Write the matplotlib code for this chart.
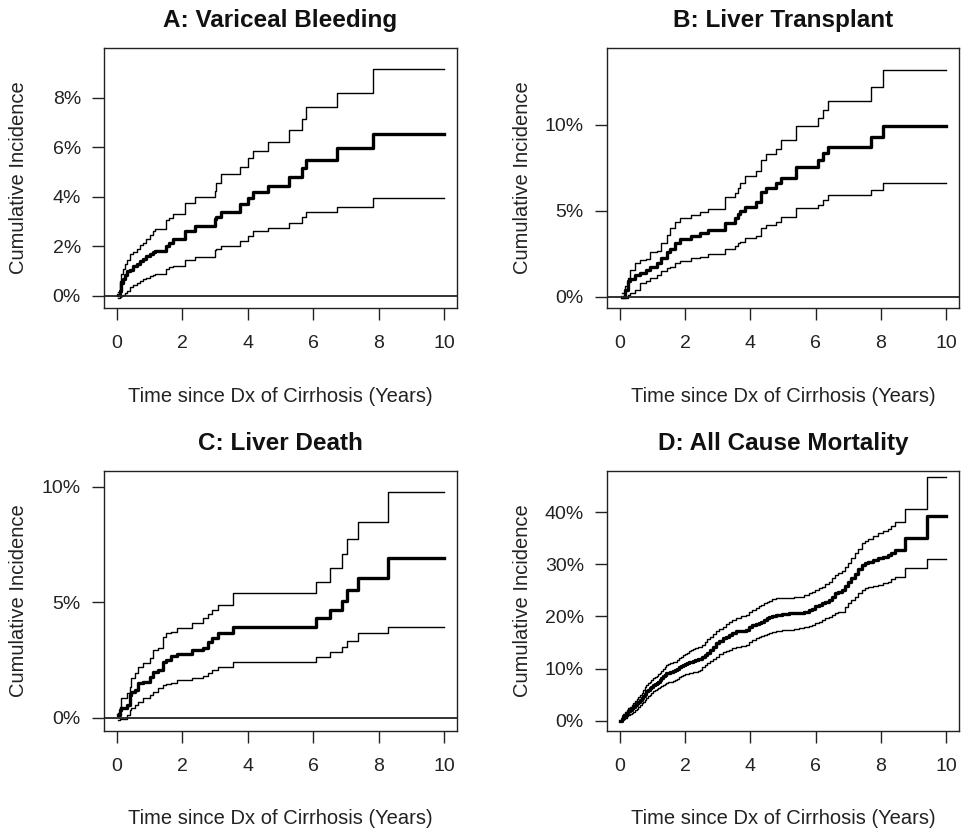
import matplotlib
matplotlib.use("Agg")
import matplotlib.pyplot as plt
from matplotlib.ticker import FuncFormatter

plt.rcParams['font.family'] = ['Liberation Sans', 'DejaVu Sans']

END_YEAR = 10
x_ticks = [0, 2, 4, 6, 8, 10]

# A: Variceal Bleeding (cumulative incidence, percent)
a_time = [0.03, 0.08, 0.13, 0.18, 0.24, 0.29, 0.39, 0.49, 0.60, 0.69, 0.80, 0.90,
          1.00, 1.10, 1.15, 1.51, 1.60, 1.71, 2.07, 2.38, 2.99, 3.04, 3.18, 3.76,
          4.01, 4.16, 4.62, 5.26, 5.66, 5.77, 6.73, 7.83]
a_est = [0.05, 0.2, 0.5, 0.7, 0.85, 1.0, 1.05, 1.2, 1.3, 1.4, 1.5, 1.6,
         1.7, 1.75, 1.8, 2.0, 2.15, 2.3, 2.6, 2.8, 3.1, 3.2, 3.4, 3.7,
         3.95, 4.2, 4.45, 4.8, 5.15, 5.5, 5.95, 6.55]
a_lo = [-0.1, -0.05, -0.02, 0.02, 0.1, 0.2, 0.35, 0.45, 0.52, 0.6, 0.68, 0.72,
        0.8, 0.86, 0.9, 1.1, 1.15, 1.2, 1.45, 1.55, 1.85, 1.9, 2.0, 2.2,
        2.4, 2.6, 2.75, 2.95, 3.2, 3.4, 3.6, 3.95]
a_hi = [0.15, 0.6, 0.9, 1.1, 1.3, 1.45, 1.7, 1.75, 1.9, 2.05, 2.15, 2.3,
        2.45, 2.6, 2.7, 3.05, 3.15, 3.3, 3.75, 4.0, 4.25, 4.55, 4.9, 5.2,
        5.55, 5.85, 6.2, 6.7, 7.15, 7.6, 8.2, 9.15]

# B: Liver Transplant
b_time = [0.05, 0.15, 0.25, 0.31, 0.46, 0.61, 0.80, 0.92, 1.12, 1.27, 1.43, 1.53,
          1.68, 1.84, 2.19, 2.45, 2.70, 3.21, 3.52, 3.62, 3.67, 3.83, 4.18, 4.34,
          4.49, 4.80, 4.95, 5.41, 6.07, 6.22, 6.38, 7.70, 8.06]
b_est = [0.0, 0.4, 0.9, 1.0, 1.26, 1.36, 1.55, 1.74, 1.94, 2.23, 2.6, 2.8,
         3.1, 3.35, 3.5, 3.7, 3.88, 4.3, 4.55, 4.8, 5.0, 5.23, 5.52, 6.1,
         6.3, 6.6, 6.88, 7.56, 7.95, 8.33, 8.68, 9.3, 9.92]
b_lo = [-0.1, -0.05, 0.1, 0.2, 0.4, 0.78, 0.9, 1.07, 1.26, 1.5, 1.65, 1.75,
        1.94, 2.08, 2.23, 2.33, 2.48, 2.8, 2.95, 3.1, 3.2, 3.4, 3.53, 3.97,
        4.17, 4.36, 4.65, 5.14, 5.33, 5.62, 5.9, 6.2, 6.63]
b_hi = [0.2, 0.6, 1.1, 1.55, 1.94, 2.13, 2.2, 2.6, 2.65, 3.1, 3.6, 4.0,
        4.36, 4.6, 4.75, 4.94, 5.08, 5.8, 6.0, 6.3, 6.6, 7.0, 7.3, 7.95,
        8.3, 8.6, 9.1, 9.9, 10.4, 10.85, 11.4, 12.2, 13.2]

# C: Liver Death
c_time = [0.03, 0.08, 0.13, 0.29, 0.39, 0.44, 0.54, 0.64, 0.80, 1.00, 1.10, 1.26,
          1.41, 1.51, 1.66, 1.82, 2.28, 2.63, 2.79, 2.89, 3.09, 3.55, 6.08, 6.51,
          6.87, 7.02, 7.38, 8.30]
c_est = [0.1, 0.33, 0.4, 0.55, 0.98, 1.1, 1.2, 1.49, 1.56, 1.77, 1.99, 2.06,
         2.42, 2.5, 2.65, 2.75, 2.93, 3.0, 3.29, 3.43, 3.65, 3.94, 4.3, 4.66,
         5.06, 5.53, 6.03, 6.9]
c_lo = [-0.1, -0.08, -0.05, 0.1, 0.33, 0.4, 0.55, 0.69, 0.84, 0.98, 1.13, 1.27,
        1.41, 1.45, 1.5, 1.63, 1.7, 1.8, 1.92, 2.06, 2.21, 2.42, 2.64, 2.86,
        3.07, 3.33, 3.65, 3.94]
c_hi = [0.2, 0.48, 0.84, 1.05, 1.34, 1.7, 1.92, 2.2, 2.35, 2.57, 2.93, 3.0,
        3.5, 3.65, 3.72, 3.87, 4.08, 4.3, 4.5, 4.66, 4.88, 5.38, 5.89, 6.46,
        7.08, 7.72, 8.48, 9.78]

# D: All Cause Mortality
d_time = [0.0, 0.05, 0.1, 0.15, 0.2, 0.25, 0.3, 0.36, 0.41, 0.46, 0.51, 0.56,
          0.61, 0.66, 0.71, 0.76, 0.81, 0.86, 0.91, 0.96, 1.02, 1.07, 1.12, 1.17,
          1.22, 1.27, 1.32, 1.37, 1.42, 1.48, 1.54, 1.61, 1.68, 1.74, 1.80, 1.87,
          1.93, 1.99, 2.05, 2.12, 2.18, 2.25, 2.31, 2.38, 2.44, 2.52, 2.60, 2.68,
          2.75, 2.85, 2.95, 3.05, 3.15, 3.25, 3.35, 3.45, 3.55, 3.70, 3.86, 3.96,
          4.06, 4.16, 4.26, 4.34, 4.42, 4.50, 4.57, 4.67, 4.77, 4.97, 5.18, 5.33,
          5.48, 5.63, 5.79, 5.89, 5.99, 6.09, 6.19, 6.30, 6.40, 6.50, 6.60, 6.70,
          6.80, 6.90, 7.0, 7.10, 7.21, 7.31, 7.41, 7.51, 7.61, 7.77, 7.92, 8.07,
          8.22, 8.32, 8.43, 8.73, 9.41]
d_est = [0.0, 0.4, 0.8, 1.1, 1.4, 1.8, 2.1, 2.4, 2.7, 3.0, 3.3, 3.6,
         4.0, 4.4, 4.8, 5.2, 5.6, 5.9, 6.2, 6.5, 6.8, 7.0, 7.3, 7.5,
         7.8, 8.2, 8.5, 8.8, 9.1, 9.2, 9.4, 9.5, 9.7, 9.9, 10.2, 10.4,
         10.7, 10.8, 11.0, 11.2, 11.3, 11.5, 11.6, 11.8, 11.9, 12.2, 12.6, 13.0,
         13.5, 14.1, 14.8, 15.3, 15.8, 16.1, 16.4, 16.8, 17.1, 17.2, 17.4, 17.9,
         18.3, 18.5, 18.7, 19.0, 19.3, 19.6, 19.9, 20.1, 20.3, 20.5, 20.6, 20.6,
         20.7, 20.9, 21.2, 21.5, 21.9, 22.2, 22.5, 22.8, 23.1, 23.7, 24.4, 24.7,
         25.0, 25.8, 26.6, 27.4, 28.2, 29.0, 29.8, 30.2, 30.5, 30.8, 31.1, 31.4,
         31.8, 32.2, 32.7, 35.0, 39.3]
d_lo = [0.0, 0.1, 0.3, 0.5, 0.8, 1.0, 1.3, 1.5, 1.7, 2.0, 2.3, 2.6,
        3.0, 3.3, 3.6, 3.9, 4.3, 4.7, 5.0, 5.3, 5.6, 5.8, 6.0, 6.3,
        6.5, 6.7, 6.9, 7.1, 7.2, 7.4, 7.5, 7.7, 7.8, 8.0, 8.3, 8.6,
        8.8, 8.9, 9.0, 9.1, 9.2, 9.3, 9.4, 9.6, 9.7, 10.2, 10.7, 11.1,
        11.5, 11.9, 12.3, 12.8, 13.2, 13.4, 13.5, 13.9, 14.2, 14.4, 14.5, 15.0,
        15.5, 15.8, 16.1, 16.3, 16.4, 16.7, 16.9, 17.0, 17.1, 17.3, 17.4, 17.5,
        17.7, 17.9, 18.1, 18.4, 18.7, 19.0, 19.3, 19.6, 19.9, 20.3, 20.6, 20.8,
        20.9, 21.7, 22.5, 23.2, 23.8, 24.4, 25.0, 25.4, 25.7, 25.9, 26.0, 26.3,
        26.6, 27.1, 27.6, 29.2, 30.9]
d_hi = [0.0, 0.7, 1.3, 1.7, 2.0, 2.4, 2.7, 3.0, 3.3, 3.7, 4.1, 4.5,
        4.9, 5.4, 5.9, 6.4, 6.8, 7.2, 7.5, 7.8, 8.1, 8.4, 8.6, 8.9,
        9.1, 9.5, 9.9, 10.3, 10.7, 10.9, 11.0, 11.2, 11.3, 11.7, 12.0, 12.3,
        12.6, 12.8, 13.0, 13.3, 13.5, 13.7, 13.9, 14.1, 14.2, 14.6, 15.1, 15.6,
        16.0, 16.6, 17.1, 17.6, 18.0, 18.5, 19.0, 19.3, 19.6, 20.0, 20.3, 20.8,
        21.2, 21.6, 21.9, 22.2, 22.5, 22.8, 23.0, 23.3, 23.5, 23.6, 23.6, 23.7,
        23.8, 24.1, 24.4, 24.7, 25.0, 25.4, 25.7, 26.2, 26.6, 27.3, 27.9, 28.3,
        28.6, 29.4, 30.2, 31.2, 32.1, 33.0, 34.0, 34.4, 34.8, 35.4, 35.9, 36.3,
        36.7, 37.4, 38.0, 40.5, 46.8]

W, H = 966, 836
fig = plt.figure(figsize=(W / 100, H / 100), dpi=100)


def box(left, top, right, bottom):
    return [left / W, 1 - bottom / H, (right - left) / W, (bottom - top) / H]


def panel(rect, title, t, est, lo, hi, ylim, yticks, zero_line=True):
    ax = fig.add_axes(rect)
    tt = t + [END_YEAR]
    for y, lw in ((lo, 1.0), (hi, 1.0), (est, 2.4)):
        ax.step(tt, y + [y[-1]], where='post', color='black', lw=lw)
    if zero_line:
        ax.axhline(0, color='#222222', lw=1.3)
    ax.set_xlim(-0.4, 10.4)
    ax.set_ylim(*ylim)
    ax.set_xticks(x_ticks)
    ax.set_yticks(yticks)
    ax.yaxis.set_major_formatter(FuncFormatter(lambda v, p: f"{v:.0f}%"))
    ax.tick_params(direction='out', length=8.6, width=1.0, labelsize=14,
                   colors='#222222')
    ax.tick_params(axis='x', pad=11)
    ax.tick_params(axis='y', pad=8)
    for s in ax.spines.values():
        s.set_linewidth(1.0)
        s.set_color('#222222')
    ax.set_title(title, fontsize=17.5, fontweight='bold', pad=15, color='#111111')
    ax.set_xlabel("Time since Dx of Cirrhosis (Years)", fontsize=14.5, color='#222222')
    ax.set_ylabel("Cumulative Incidence", fontsize=14.5, color='#222222')
    ax.xaxis.set_label_coords(0.5, -88 / 260)
    ax.xaxis.label.set_verticalalignment('center')
    ax.yaxis.set_label_coords(-85 / 352, 0.5)
    ax.yaxis.label.set_verticalalignment('center')
    return ax


panel(box(104, 48, 457, 308), "A: Variceal Bleeding", a_time, a_est, a_lo, a_hi,
      (-0.49, 10.0), [0, 2, 4, 6, 8])
panel(box(607, 48, 959, 308), "B: Liver Transplant", b_time, b_est, b_lo, b_hi,
      (-0.66, 14.46), [0, 5, 10])
panel(box(104, 471, 457, 731), "C: Liver Death", c_time, c_est, c_lo, c_hi,
      (-0.58, 10.68), [0, 5, 10])
panel(box(607, 471, 959, 731), "D: All Cause Mortality", d_time, d_est, d_lo, d_hi,
      (-1.98, 47.86), [0, 10, 20, 30, 40], zero_line=False)

fig.savefig("out.png", dpi=100)
